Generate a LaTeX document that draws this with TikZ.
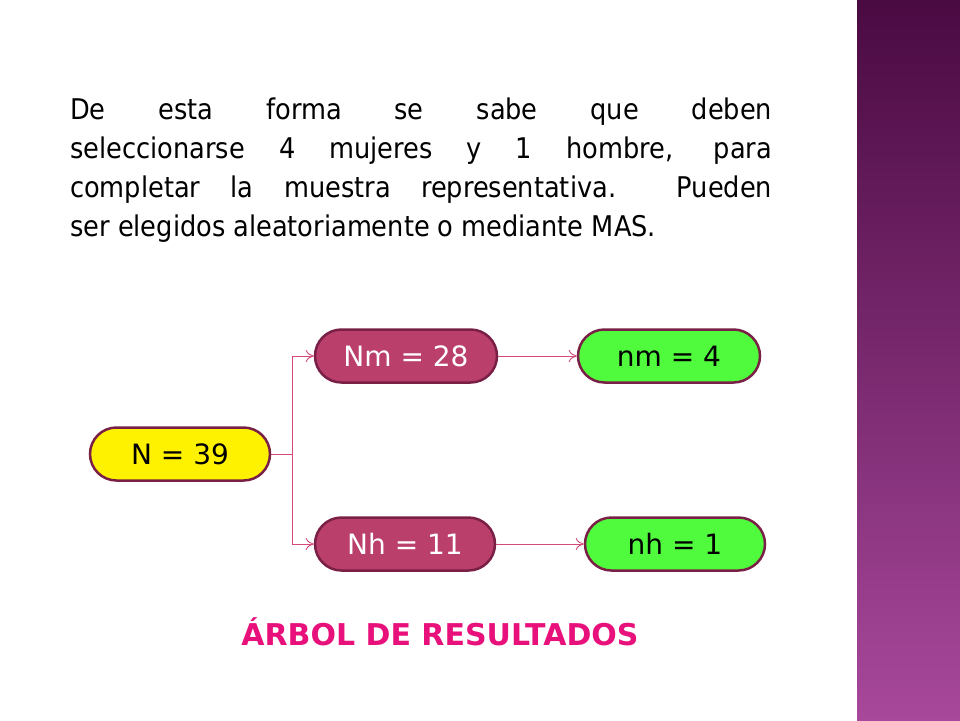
\documentclass[tikz,border=0pt]{standalone}
\usepackage{fontspec}
\setmainfont{DejaVu Sans}
\newfontfamily\condfont{DejaVu Sans Condensed}
\usetikzlibrary{shapes.misc,arrows.meta}
\definecolor{lnk}{HTML}{D44A7A}
\definecolor{bord}{HTML}{7A2046}
\definecolor{mag}{HTML}{BA3F6B}
\tikzset{
 pill/.style={rounded rectangle,draw=bord,line width=2.5pt,minimum width=180pt,minimum height=53pt,font=\fontsize{28}{32}\selectfont,inner sep=0pt},
 conn/.style={draw=lnk,line width=0.9pt,-{To[length=8pt,width=12pt]}}
}
\begin{document}
\begin{tikzpicture}[x=1pt,y=-1pt]
\useasboundingbox (0,0) rectangle (960,720);
\fill[white] (0,0) rectangle (960,720);
\shade[top color={rgb,255:red,74;green,10;blue,66},bottom color={rgb,255:red,168;green,72;blue,155}] (857,0) rectangle (960,720);
\node[anchor=north west,text width=702pt,align=justify,inner sep=0pt,font=\condfont\fontsize{28.5}{39}\selectfont] (txt) at (70,98)
 {De esta forma se sabe que deben\linebreak seleccionarse 4 mujeres y 1 hombre, para\linebreak completar la muestra representativa.\ \ Pueden\linebreak ser elegidos aleatoriamente o mediante MAS.};
\node[pill,fill=yellow] (N) at (180,454) {N = 39};
\node[pill,fill=mag,text=white,minimum width=182pt] (Nm) at (406,356) {Nm = 28};
\node[pill,fill=mag,text=white] (Nh) at (405,544) {Nh = 11};
\node[pill,fill={rgb,255:red,80;green,250;blue,60},minimum width=182pt] (nm) at (669,356) {nm = 4};
\node[pill,fill={rgb,255:red,80;green,250;blue,60}] (nh) at (675,544) {nh = 1};
\coordinate (br) at (292,454);
\draw[draw=lnk,line width=0.9pt] (N.east) -- (br);
\draw[conn] (br) |- (Nm.west);
\draw[conn] (br) |- (Nh.west);
\draw[conn] (Nm.east) -- (nm.west);
\draw[conn] (Nh.east) -- (nh.west);
\node[text={rgb,255:red,232;green,16;blue,122},font=\bfseries\fontsize{30}{34}\selectfont] (t) at (440,632) {ÁRBOL DE RESULTADOS};
\end{tikzpicture}
\end{document}
